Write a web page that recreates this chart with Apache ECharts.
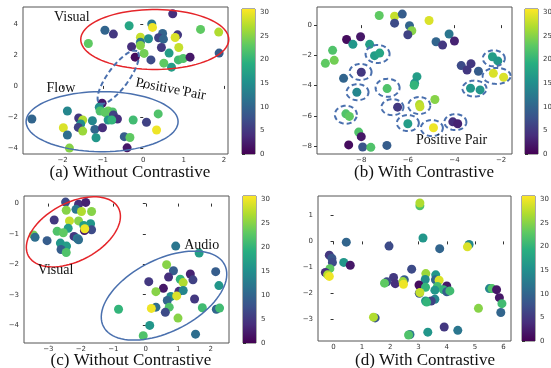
<!DOCTYPE html>
<html><head><meta charset="utf-8">
<script src="https://cdn.jsdelivr.net/npm/echarts@6/dist/echarts.min.js"></script>
<style>html,body{margin:0;padding:0;background:#fff}#c{width:551px;height:368px}</style>
</head><body><div id="c"></div>
<script>
// ---- data: [x, y, value] ----
const pointsA = [
[0.73,4.66,4],[0.21,4.0,12],[0.23,3.78,30],[-0.35,3.89,18],[-0.95,3.6,10],[-0.74,3.35,5],[0.48,3.39,10],[0.85,3.3,5],[1.42,3.65,23],[1.87,3.48,27],[-1.36,2.74,23],[-0.07,3.15,28],[0.13,3.05,15],[0.38,3.11,6],[0.5,3.02,10],[0.79,3.13,29],[-0.07,2.83,12],[-0.07,2.61,25],[-0.29,2.53,4],[0.45,2.48,5],[0.88,2.48,28],[0.02,2.1,24],[0.64,2.12,17],[-0.2,1.86,1],[0.19,1.68,7],[0.51,1.47,23],[0.87,1.68,21],[0.99,1.77,22],[1.16,1.86,2],[0.7,1.21,17],[1.88,2.12,9],
[-1.02,-1.12,2],[-1.09,-1.38,15],[-1.88,-1.62,14],[-1.07,-1.62,22],[-0.87,-1.62,24],[-0.76,-1.68,22],[-0.89,-1.81,24],[-0.95,-1.7,23],[-0.74,-1.88,6],[-2.76,-2.14,10],[-1.6,-2.07,5],[-1.5,-2.2,27],[-1.26,-2.25,14],[-0.87,-2.2,16],[-0.64,-2.14,4],[-0.78,-2.2,20],[-0.25,-2.2,21],[0.08,-2.35,6],[0.37,-1.81,22],[-1.55,-2.46,15],[-1.61,-2.68,6],[-1.98,-2.7,29],[-1.5,-2.92,26],[-1.2,-2.81,10],[-1.01,-2.7,4],[0.33,-2.85,30],[-1.88,-3.17,11],[-1.17,-3.35,16],[-0.47,-3.28,9],[-0.33,-3.33,23],[-1.83,-4.02,25],[-0.4,-4.0,2]
];
const pointsB = [
[-7.23,0.64,23],[-6.57,0.59,28],[-6.24,0.73,9],[-5.09,0.31,29],[-6.57,0.13,7],[-5.93,-0.04,10],[-5.83,-0.37,25],[-6.0,-0.64,6],[-4.23,-0.59,12],[-4.79,-1.1,10],[-4.51,-1.32,5],[-4.0,-1.05,3],[-8.03,-0.77,2],[-8.63,-0.95,1],[-8.36,-1.27,16],[-7.64,-1.27,17],[-9.23,-1.67,22],[-7.43,-2.02,17],[-7.21,-1.85,18],[-9.16,-2.33,24],[-9.54,-2.53,23],[-8.0,-3.12,5],[-8.76,-3.52,10],[-5.61,-3.41,17],[-5.71,-3.85,16],[-5.73,-3.98,20],[-8.19,-4.44,14],[-6.89,-4.2,22],[-6.44,-5.43,5],[-5.5,-5.26,27],[-5.48,-5.4,28],[-4.84,-4.92,25],[-8.66,-5.87,22],[-8.51,-6.04,23],[-6.0,-6.53,17],[-4.9,-6.79,30],[-4.07,-6.4,4],[-3.86,-6.53,3],[-3.71,-2.68,7],[-3.29,-2.55,5],[-3.46,-2.97,5],[-2.97,-3.05,9],[-2.37,-2.09,17],[-2.14,-2.37,16],[-2.33,-3.19,29],[-1.89,-3.45,29],[-3.31,-4.18,16],[-2.9,-4.29,16],[-8.11,-7.08,22],[-8.0,-7.38,2],[-8.54,-7.93,1],[-7.94,-8.07,8],[-7.59,-8.09,22],[-6.9,-7.96,9]
];
const pointsC = [
[-2.47,0.05,7],[-2.07,-0.02,4],[-1.85,0.04,3],[-2.45,-0.22,25],[-2.15,-0.19,12],[-1.98,-0.26,27],[-1.67,-0.26,25],[-2.82,-0.54,5],[-2.35,-0.57,28],[-2.07,-0.57,25],[-1.7,-0.66,16],[-1.91,-0.72,17],[-2.39,-0.81,17],[-1.67,-0.86,7],[-1.89,-0.89,2],[-1.88,-0.83,30],[-2.73,-0.91,22],[-2.54,-0.96,23],[-3.46,-1.03,24],[-3.41,-1.11,11],[-3.04,-1.22,9],[-2.21,-1.08,5],[-2.11,-1.15,13],[-2.07,-1.19,11],[-2.63,-1.3,16],[-2.44,-1.4,17],[-2.61,-1.51,9],[-2.45,-1.61,22],
[0.92,-1.4,12],[1.64,-1.63,17],[0.64,-2.01,25],[0.85,-2.21,9],[1.37,-2.32,3],[2.15,-2.24,9],[0.09,-2.57,5],[0.7,-2.42,4],[1.06,-2.49,20],[1.15,-2.6,27],[1.45,-2.51,6],[0.54,-2.79,2],[0.31,-2.9,25],[1.02,-2.89,4],[1.15,-2.86,14],[2.25,-2.7,16],[0.77,-3.06,15],[0.95,-3.04,29],[0.66,-3.19,10],[1.5,-3.14,5],[-0.84,-3.48,20],[0.31,-3.41,11],[0.17,-3.45,30],[0.72,-3.41,22],[0.6,-3.58,7],[1.74,-3.43,21],[2.17,-3.48,10],[2.27,-3.44,21],[0.99,-3.77,25],[0.12,-4.01,16],[1.53,-4.3,11],[-0.08,-4.35,22]
];
const pointsD = [
[3.05,1.37,22],[3.05,1.48,27],[3.16,0.13,16],[0.45,-0.03,10],[1.96,-0.18,7],[3.75,-0.28,10],[4.79,-0.12,14],[4.73,-0.21,29],[-0.15,-0.53,5],[-0.06,-0.65,8],[-0.04,-0.81,7],[0.36,-0.81,16],[0.59,-0.92,2],[-0.13,-1.05,23],[-0.29,-1.2,4],[-0.21,-1.29,27],[-0.15,-1.35,30],[2.76,-1.07,7],[3.26,-1.24,26],[3.61,-1.29,16],[3.24,-1.47,15],[3.6,-1.48,10],[2.12,-1.39,5],[2.5,-1.48,9],[1.88,-1.56,7],[1.8,-1.61,23],[2.18,-1.63,4],[2.45,-1.55,26],[2.47,-1.65,30],[3.02,-1.68,1],[3.73,-1.5,29],[3.67,-1.74,21],[3.25,-1.77,20],[4.0,-1.72,2],[3.58,-1.88,16],[3.88,-1.86,20],[4.0,-1.94,9],[4.11,-1.91,21],[3.03,-2.0,8],[3.05,-1.97,28],[3.58,-2.23,14],[3.45,-2.3,6],[3.25,-2.3,16],[3.29,-2.34,20],[5.51,-1.82,14],[5.6,-1.82,22],[5.76,-1.86,2],[5.86,-2.17,2],[5.95,-2.4,21],[5.12,-2.58,25],[5.91,-2.74,10],[1.47,-2.95,8],[1.41,-2.92,27],[3.91,-3.3,5],[4.39,-3.43,12],[3.33,-3.5,16],[2.7,-3.59,12],[2.65,-3.61,22]
];
const colorbarTicks = [0,5,10,15,20,25,30];
const xTicksA = [-2,-1,0,1,2], yTicksA = [-4,-2,0,2,4];
const xTicksB = [-8,-6,-4,-2], yTicksB = [-8,-6,-4,-2,0];
const xTicksC = [-3,-2,-1,0,1,2], yTicksC = [-4,-3,-2,-1,0];
const xTicksD = [0,1,2,3,4,5,6], yTicksD = [-3,-2,-1,0,1];
const captions = ['(a) Without Contrastive','(b) With Contrastive','(c) Without Contrastive','(d) With Contrastive'];

// ---- annotations (centre in data units, radii in px) ----
const RED = '#e5252a', BLUE = '#4a70ae';
const annA = [
  {kind:'ellipse', c:[0.285,3.0], r:[74,30], rot:0, color:RED, w:1.5},
  {kind:'ellipse', c:[-1.02,-2.31], r:[76,30], rot:0, color:BLUE, w:1.5},
  {kind:'ellipse', c:[-0.62,0.56], r:[32,10.5], rot:54, color:BLUE, w:2, dash:[5,3]},
  {kind:'text', c:[-1.77,4.44], text:'Visual', size:14},
  {kind:'text', c:[-2.04,-0.13], text:'Flow', size:14},
  {kind:'text', c:[0.68,-0.22], text:'Positive Pair', size:14, rot:-11}
];
const annB = [
  [-7.3,-1.91,12,9],[-8.03,-3.1,11,8],[-8.16,-4.44,11,8],[-6.87,-4.15,12,9],[-6.66,-5.43,11,8],[-5.51,-5.32,11,8.5],
  [-8.66,-5.93,11,9],[-6.0,-6.48,11,8],[-4.97,-6.81,11,8],[-3.96,-6.42,11,8],[-2.31,-2.2,11,8],[-2.19,-3.36,14,8],[-3.14,-4.2,12,8]
].map(e => ({kind:'ellipse', c:[e[0],e[1]], r:[e[2],e[3]], rot:0, color:BLUE, w:2, dash:[5,3]}))
 .concat([{kind:'text', c:[-4.12,-7.65], text:'Positive Pair', size:14}]);
const annC = [
  {kind:'ellipse', c:[-2.23,-0.93], r:[51,29], rot:28, color:RED, w:1.5},
  {kind:'ellipse', c:[0.56,-3.03], r:[68,36], rot:27, color:BLUE, w:1.5},
  {kind:'text', c:[-2.78,-2.2], text:'Visual', size:14},
  {kind:'text', c:[1.72,-1.36], text:'Audio', size:14}
];

const viridis = ['#440154','#472d7b','#3b528b','#2c728e','#21918c','#28ae80','#5ec962','#addc30','#fde725'];
const CB_MAX = 30.7;
const minus = v => String(v).replace('-', '\u2212');

const plotGrids = [
  {left:23, top:7, width:205, height:147, x:[-2.98,2.1], y:[-4.4,5.1], xt:xTicksA, yt:yTicksA},
  {left:317, top:7, width:195, height:147, x:[-9.9,-1.53], y:[-8.53,1.2], xt:xTicksB, yt:yTicksB},
  {left:24, top:196, width:205, height:147, x:[-3.75,2.56], y:[-4.59,0.25], xt:xTicksC, yt:yTicksC},
  {left:318, top:196, width:193, height:145, x:[-0.55,6.27], y:[-3.84,1.75], xt:xTicksD, yt:yTicksD}
];
const cbGrids = [
  {left:242, top:9, width:13, height:145},
  {left:525, top:9, width:13, height:145},
  {left:243, top:196, width:13, height:147},
  {left:522, top:196, width:13, height:145}
];

const tickFont = {fontSize:7, color:'#333', fontFamily:'DejaVu Sans'};
const grid = [], xAxis = [], yAxis = [], series = [], visualMap = [];
plotGrids.forEach((g, i) => {
  grid.push({left:g.left, top:g.top, width:g.width, height:g.height, show:true, borderColor:'#555', borderWidth:1, backgroundColor:'transparent', containLabel:false, outerBoundsMode:'none'});
  xAxis.push({type:'value', gridIndex:i, min:g.x[0], max:g.x[1], splitLine:{show:false}, axisLine:{show:false},
    axisTick:{show:true, length:3, lineStyle:{color:'#333'}, customValues:g.xt},
    axisLabel:Object.assign({margin:3, customValues:g.xt, formatter:minus}, tickFont)});
  yAxis.push({type:'value', gridIndex:i, min:g.y[0], max:g.y[1], splitLine:{show:false}, axisLine:{show:false},
    axisTick:{show:true, length:3, lineStyle:{color:'#333'}, customValues:g.yt},
    axisLabel:Object.assign({margin:5, customValues:g.yt, formatter:minus}, tickFont)});
});
cbGrids.forEach((g, i) => {
  grid.push({left:g.left, top:g.top, width:g.width, height:g.height, show:true, borderColor:'#555', borderWidth:1, backgroundColor:'transparent', containLabel:false, outerBoundsMode:'none'});
  xAxis.push({type:'value', gridIndex:4+i, min:0, max:1, show:false});
  yAxis.push({type:'value', gridIndex:4+i, position:'right', min:0, max:CB_MAX, splitLine:{show:false}, axisLine:{show:false},
    axisTick:{show:true, length:3, lineStyle:{color:'#333'}, customValues:colorbarTicks},
    axisLabel:Object.assign({margin:5, customValues:colorbarTicks}, tickFont)});
});

[pointsA, pointsB, pointsC, pointsD].forEach((pts, i) => {
  series.push({type:'scatter', xAxisIndex:i, yAxisIndex:i, data:pts, symbolSize:9, itemStyle:{opacity:1}, silent:true, animation:false});
  visualMap.push({type:'continuous', show:false, min:0, max:CB_MAX, dimension:2, seriesIndex:i, inRange:{color:viridis}});
});

function annRender(list) {
  return function (params, api) {
    const a = list[params.dataIndex];
    const p = api.coord(a.c);
    const phi = (a.rot || 0) * Math.PI / 180;
    if (a.kind === 'text') {
      return {type:'text', x:p[0], y:p[1], rotation:phi,
        style:{text:a.text, fill:'#111', font:a.size + 'px "Liberation Serif", serif', align:'center', verticalAlign:'middle', textAlign:'center', textVerticalAlign:'middle'}};
    }
    const pts = [];
    for (let k = 0; k < 90; k++) {
      const t = k / 90 * 2 * Math.PI;
      const ex = a.r[0] * Math.cos(t), ey = a.r[1] * Math.sin(t);
      pts.push([p[0] + ex * Math.cos(phi) - ey * Math.sin(phi), p[1] - (ex * Math.sin(phi) + ey * Math.cos(phi))]);
    }
    return {type:'polygon', shape:{points:pts}, style:{fill:'none', stroke:a.color, lineWidth:a.w, lineDash:a.dash || null}};
  };
}
[[annA,0],[annB,1],[annC,2]].forEach(([list, gi]) => {
  series.push({type:'custom', xAxisIndex:gi, yAxisIndex:gi, data:list.map(a => a.c), renderItem:annRender(list), silent:true, animation:false, z:5, clip:false});
});

const stops = viridis.map((c, k) => ({offset:k / (viridis.length - 1), color:c}));
cbGrids.forEach((g, i) => {
  series.push({type:'custom', xAxisIndex:4+i, yAxisIndex:4+i, data:[[0, 0]], silent:true, animation:false,
    renderItem:(params, api) => {
      const p0 = api.coord([0, 0]), p1 = api.coord([1, CB_MAX]);
      return {type:'rect', shape:{x:p0[0], y:p1[1], width:p1[0]-p0[0], height:p0[1]-p1[1]},
        style:{fill:new echarts.graphic.LinearGradient(0, 1, 0, 0, stops)}};
    }});
});

const capPos = [[130,172.5],[424,172.5],[131,360.5],[425,360.5]];
const graphic = captions.map((t, i) => ({type:'text', x:capPos[i][0], y:capPos[i][1], silent:true,
  style:{text:t, fill:'#111', font:'17px "Liberation Serif", serif', textAlign:'center', textVerticalAlign:'middle', align:'center', verticalAlign:'middle'}}));

const chart = echarts.init(document.getElementById('c'), null, {renderer:'canvas'});
chart.setOption({animation:false, backgroundColor:'#fff', grid, xAxis, yAxis, visualMap, series, graphic});
</script>
</body></html>
